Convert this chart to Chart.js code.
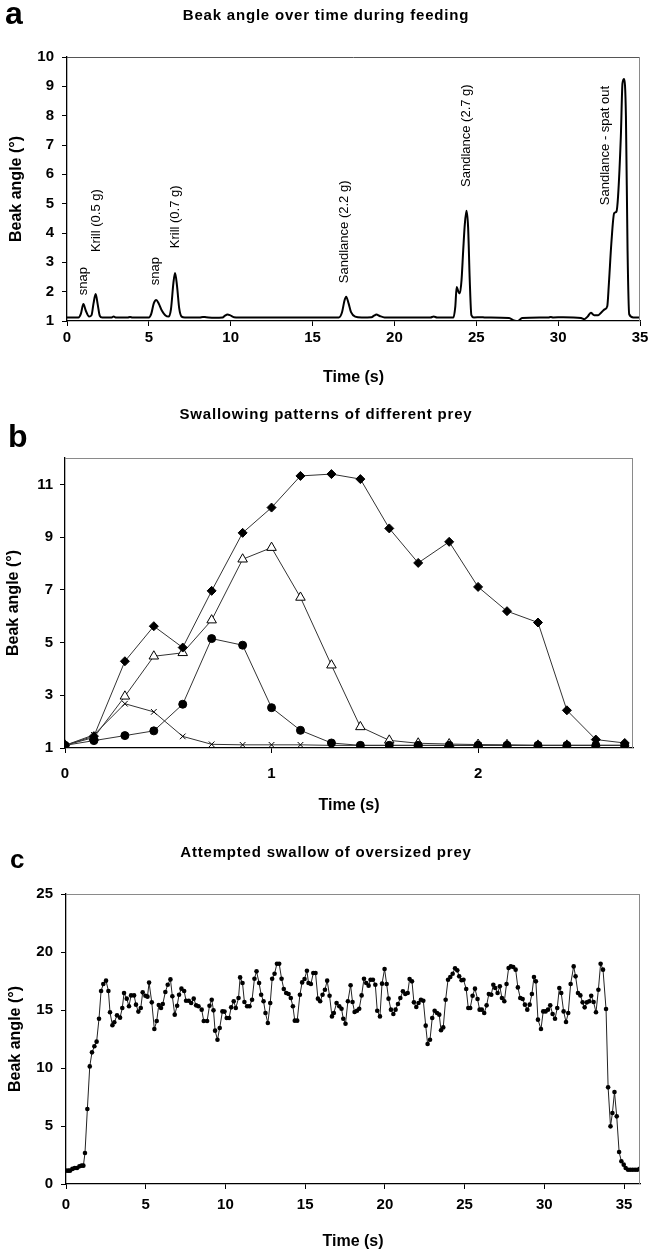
<!DOCTYPE html>
<html>
<head>
<meta charset="utf-8">
<script src="https://cdn.jsdelivr.net/npm/chart.js@4.4.1/dist/chart.umd.min.js"></script>
<style>
  body { margin: 0; background: #fff; }
  #page { position: relative; width: 648px; height: 1252px; overflow: hidden; font-family: "Liberation Sans", Arial, sans-serif; }
  canvas { position: absolute; left: 0; }
  .title { position: absolute; left: 2px; width: 648px; text-align: center; font-weight: bold; font-size: 15px; letter-spacing: 0.8px; line-height: 1; }
  .letter { position: absolute; font-weight: bold; line-height: 1; }
</style>
</head>
<body>
<div id="page">
  <canvas id="chartA" width="648" height="392" style="top:0px"></canvas>
  <canvas id="chartB" width="648" height="428" style="top:392px"></canvas>
  <canvas id="chartC" width="648" height="432" style="top:820px"></canvas>
  <div class="letter" style="left:5px; top:-3px; font-size:32px">a</div>
  <div class="title" style="top:7px">Beak angle over time during feeding</div>
  <div class="letter" style="left:8px; top:420px; font-size:32px">b</div>
  <div class="title" style="top:406px">Swallowing patterns of different prey</div>
  <div class="letter" style="left:10px; top:846px; font-size:26px">c</div>
  <div class="title" style="top:844px">Attempted swallow of oversized prey</div>
</div>
<script>
// panel a - beak angle during feeding
const timeA = [0, 0.7, 0.85, 1.0, 1.15, 1.35, 1.5, 1.62, 1.75, 1.88, 2.0, 2.15, 2.7, 2.85, 3.0, 3.7, 3.85, 4.0,
  5.0, 5.15, 5.3, 5.45, 5.6, 5.8, 6.0, 6.2, 6.35, 6.5, 6.6, 6.72, 6.85, 7.0, 7.2, 8.1, 8.3, 8.5, 9.0, 9.5,
  9.65, 9.8, 9.95, 10.2, 10.5, 16.6, 16.8, 16.95, 17.05, 17.2, 17.35, 17.6, 18.0, 18.6, 18.75, 18.9, 19.1,
  19.4, 22.2, 22.4, 22.6, 23.6, 23.72, 23.8, 23.95, 24.0, 24.1, 24.2, 24.3, 24.4, 24.5, 24.6, 24.7, 24.85,
  25.3, 25.5, 27.0, 27.3, 27.55, 27.8, 29.4, 29.55, 29.7, 30.3, 31.4, 31.6, 31.8, 32.0, 32.2, 32.45, 32.65,
  32.85, 33.0, 33.1, 33.25, 33.42, 33.56, 33.66, 33.83, 33.93, 34.03, 34.14, 34.24, 34.34, 34.6, 35];
const angleA = [1.12, 1.12, 1.25, 1.58, 1.35, 1.15, 1.2, 1.6, 1.92, 1.55, 1.18, 1.12, 1.12, 1.15, 1.12, 1.12, 1.14, 1.12,
  1.12, 1.25, 1.6, 1.72, 1.6, 1.35, 1.2, 1.15, 1.4, 2.3, 2.64, 2.2, 1.45, 1.15, 1.12, 1.12, 1.14, 1.13, 1.11, 1.12,
  1.18, 1.22, 1.2, 1.13, 1.12, 1.12, 1.3, 1.7, 1.83, 1.6, 1.3, 1.15, 1.12, 1.13, 1.18, 1.22, 1.17,
  1.12, 1.12, 1.15, 1.12, 1.12, 1.5, 2.16, 1.95, 1.95, 2.4, 3.4, 4.3, 4.76, 4.2, 2.4, 1.2, 1.12,
  1.13, 1.12, 1.1, 1.02, 1.0, 1.1, 1.12, 1.14, 1.12, 1.13, 1.1, 1.06, 1.15, 1.28, 1.2, 1.2, 1.3,
  1.4, 1.5, 2.28, 3.65, 4.67, 4.73, 5.25, 7.29, 9.1, 9.25, 8.0, 3.4, 1.23, 1.12, 1.12];
const labelTextA = ['snap', 'Krill (0.5 g)', 'snap', 'Krill (0.7 g)', 'Sandlance (2.2 g)', 'Sandlance (2.7 g)', 'Sandlance - spat out'];
const labelTimeA = [0.99, 1.79, 5.41, 6.6, 16.97, 24.38, 32.87];
const labelAngleA = [1.88, 3.35, 2.22, 3.48, 2.29, 5.57, 4.95];
const xTicksA = [0, 5, 10, 15, 20, 25, 30, 35];
const yTicksA = [1, 2, 3, 4, 5, 6, 7, 8, 9, 10];

// panel b - swallowing patterns
const timeB = [0, 0.14, 0.29, 0.43, 0.57, 0.71, 0.86, 1.0, 1.14, 1.29, 1.43, 1.57, 1.71, 1.86, 2.0, 2.14, 2.29, 2.43, 2.57, 2.71];
const diamondB = [1.1, 1.45, 4.29, 5.62, 4.81, 6.96, 9.16, 10.12, 11.32, 11.39, 11.2, 9.33, 8.02, 8.82, 7.11, 6.19, 5.76, 2.43, 1.32, 1.19];
const triangleB = [1.1, 1.4, 2.96, 4.48, 4.61, 5.85, 8.16, 8.6, 6.71, 4.14, 1.8, 1.29, 1.18, 1.15, 1.13, 1.12, 1.1, 1.1, 1.1, 1.1];
const circleB = [1.1, 1.28, 1.47, 1.65, 2.66, 5.15, 4.9, 2.53, 1.67, 1.19, 1.1, 1.1, 1.1, 1.1, 1.1, 1.1, 1.1, 1.1, 1.1, 1.1];
const crossB = [1.1, 1.5, 2.68, 2.37, 1.44, 1.14, 1.12, 1.12, 1.12, 1.1, 1.1, 1.1, 1.1, 1.1, 1.1, 1.1, 1.1, 1.1, 1.1, 1.1];
const xTicksB = [0, 1, 2];
const yTicksB = [1, 3, 5, 7, 9, 11];

// panel c - oversized prey
const timeC = [0, 0.14, 0.25, 0.4, 0.55, 0.69, 0.84, 0.98, 1.09, 1.19, 1.34, 1.49, 1.63, 1.78, 1.92,
  2.07, 2.2, 2.34, 2.51, 2.66, 2.76, 2.91, 3.03, 3.2, 3.39, 3.53, 3.64, 3.81, 3.95, 4.08, 4.27, 4.39, 4.54,
  4.69, 4.81, 4.98, 5.11, 5.21, 5.38, 5.54, 5.69, 5.82, 5.96, 6.07, 6.23, 6.38, 6.55, 6.67, 6.82, 6.97, 7.09,
  7.24, 7.41, 7.53, 7.7, 7.85, 8.01, 8.16, 8.31, 8.51, 8.64, 8.85, 9.0, 9.14, 9.25, 9.35, 9.5, 9.64, 9.81,
  9.94, 10.08, 10.23, 10.36, 10.52, 10.65, 10.82, 10.92, 11.07, 11.19, 11.36, 11.51, 11.67, 11.82, 11.95,
  12.11, 12.24, 12.39, 12.51, 12.66, 12.81, 12.93, 13.08, 13.23, 13.37, 13.52, 13.66, 13.81, 13.96, 14.1,
  14.23, 14.35, 14.5, 14.67, 14.81, 14.96, 15.11, 15.21, 15.36, 15.51, 15.65, 15.8, 15.94, 16.09, 16.24,
  16.38, 16.53, 16.68, 16.8, 16.97, 17.14, 17.28, 17.39, 17.53, 17.68, 17.85, 17.97, 18.1, 18.25, 18.39,
  18.54, 18.69, 18.83, 18.98, 19.1, 19.25, 19.4, 19.52, 19.69, 19.82, 19.98, 20.11, 20.23, 20.38, 20.53,
  20.67, 20.82, 20.97, 21.13, 21.28, 21.43, 21.55, 21.7, 21.82, 21.97, 22.11, 22.26, 22.41, 22.56, 22.68,
  22.83, 22.97, 23.12, 23.27, 23.41, 23.52, 23.66, 23.81, 23.96, 24.1, 24.25, 24.4, 24.54, 24.66, 24.81,
  24.93, 25.1, 25.23, 25.35, 25.5, 25.65, 25.81, 25.94, 26.08, 26.23, 26.38, 26.52, 26.67, 26.8, 26.92,
  27.07, 27.21, 27.34, 27.49, 27.63, 27.76, 27.9, 28.05, 28.2, 28.34, 28.49, 28.64, 28.78, 28.93, 29.08,
  29.22, 29.35, 29.47, 29.6, 29.79, 29.93, 30.08, 30.23, 30.37, 30.52, 30.67, 30.81, 30.94, 31.06, 31.21,
  31.36, 31.5, 31.65, 31.84, 31.96, 32.11, 32.26, 32.4, 32.53, 32.67, 32.82, 32.94, 33.09, 33.24, 33.39,
  33.53, 33.68, 33.87, 34.0, 34.15, 34.27, 34.4, 34.54, 34.69, 34.83, 34.98, 35.1, 35.25, 35.39, 35.54,
  35.69, 35.83, 35.98];
const angleC = [1.15, 1.15, 1.15, 1.3, 1.38, 1.38, 1.52, 1.58, 1.58, 2.67, 6.46, 10.14, 11.35, 11.87, 12.27,
  14.25, 16.64, 17.24, 17.53, 16.64, 14.8, 13.68, 13.94, 14.54, 14.34, 15.17, 16.46, 15.98, 15.32, 16.26, 16.26, 15.46, 14.86,
  15.17, 16.52, 16.23, 16.15, 17.36, 15.66, 13.36, 14.05, 15.43, 15.17, 15.52, 16.55, 17.18, 17.64, 16.18, 14.6, 15.37, 16.32,
  16.84, 16.64, 15.8, 15.8, 15.6, 15.98, 15.4, 15.32, 15.03, 14.05, 14.05, 15.37, 15.89, 14.97, 13.22, 12.44, 13.45, 14.88,
  14.86, 14.31, 14.31, 15.23, 15.75, 15.17, 16.03, 17.81, 17.33, 15.69, 15.32, 15.32, 15.89, 17.7, 18.33,
  17.33, 16.32, 15.75, 14.74, 13.88, 15.6, 17.7, 18.13, 18.99, 18.99, 17.7, 16.81, 16.46, 16.38, 16.03,
  15.32, 14.08, 14.08, 16.32, 17.38, 17.67, 18.39, 17.33, 17.24, 18.19, 18.19, 15.98, 15.75, 16.32, 16.75,
  17.53, 16.23, 14.45, 14.74, 15.6, 15.32, 15.11, 14.25, 13.82, 15.75, 17.13, 15.69, 14.83, 14.94, 15.11,
  16.26, 17.7, 17.33, 17.1, 17.61, 17.61, 17.18, 14.94, 14.45, 17.27, 18.53, 17.24, 15.98, 15.03, 14.65,
  15.03, 15.52, 16.03, 16.61, 16.38, 16.46, 17.67, 17.47, 15.66, 15.26, 15.6, 15.89, 15.8, 13.65, 12.07,
  12.44, 14.31, 14.94, 14.74, 14.6, 13.25, 13.5, 15.89, 17.61, 17.84, 18.13, 18.6, 18.42, 17.9, 17.56,
  17.61, 16.81, 15.17, 15.17, 16.23, 16.84, 15.95, 15.03, 15.03, 14.74, 15.4, 16.38, 16.32, 17.18, 16.9,
  16.46, 17.04, 16.03, 15.75, 17.24, 18.62, 18.76, 18.71, 18.48, 16.95, 16.03, 15.95, 15.46, 15.03, 15.46,
  16.38, 17.84, 17.47, 14.17, 13.36, 14.88, 14.88, 15.03, 15.4, 14.65, 14.25, 15.17, 16.9, 16.46, 14.88,
  13.96, 14.74, 17.24, 18.76, 17.9, 16.46, 16.26, 15.66, 15.23, 15.66, 15.75, 16.23, 15.69, 14.8, 16.75,
  18.99, 18.48, 15.08, 8.33, 4.97, 6.12, 7.93, 5.83, 2.76, 1.96, 1.67, 1.38, 1.23, 1.23, 1.23,
  1.23, 1.23, 1.3];
const xTicksC = [0, 5, 10, 15, 20, 25, 30, 35];
const yTicksC = [0, 5, 10, 15, 20, 25];

const FONT = '"Liberation Sans", Arial, sans-serif';

function toPoints(xs, ys) {
  return xs.map((x, i) => ({ x: x, y: ys[i] }));
}

// top and right frame lines
const framePlugin = {
  id: 'frame',
  afterDraw(chart) {
    const a = chart.chartArea;
    const ctx = chart.ctx;
    ctx.save();
    ctx.lineWidth = 1;
    ctx.strokeStyle = chart.options.plugins.frame.topColor;
    ctx.beginPath();
    ctx.moveTo(a.left, a.top + 0.5);
    ctx.lineTo(a.right, a.top + 0.5);
    ctx.stroke();
    ctx.strokeStyle = chart.options.plugins.frame.rightColor;
    ctx.beginPath();
    ctx.moveTo(a.right - 0.5, a.top);
    ctx.lineTo(a.right - 0.5, a.bottom);
    ctx.stroke();
    ctx.restore();
  }
};

// rotated event labels of panel a
const labelPlugin = {
  id: 'eventLabels',
  afterDatasetsDraw(chart) {
    const opts = chart.options.plugins.eventLabels;
    if (!opts || !opts.texts) return;
    const ctx = chart.ctx;
    ctx.save();
    ctx.fillStyle = '#000';
    ctx.font = '13px ' + FONT;
    ctx.textAlign = 'left';
    ctx.textBaseline = 'middle';
    opts.texts.forEach((txt, i) => {
      const x = chart.scales.x.getPixelForValue(opts.times[i]);
      const y = chart.scales.y.getPixelForValue(opts.angles[i]);
      ctx.save();
      ctx.translate(x, y);
      ctx.rotate(-Math.PI / 2);
      ctx.fillText(txt, 0, 0);
      ctx.restore();
    });
    ctx.restore();
  }
};

function makeScales(cfg) {
  const tickFont = { family: FONT, size: 15, weight: 'bold' };
  const titleFont = { family: FONT, size: 16, weight: 'bold' };
  return {
    x: {
      type: 'linear',
      min: cfg.xMin, max: cfg.xMax,
      afterBuildTicks: s => { s.ticks = cfg.xTicks.map(v => ({ value: v })); },
      afterFit: s => { s.height = cfg.xHeight; s.paddingLeft = 0; s.paddingRight = 0; },
      grid: { display: true, drawOnChartArea: false, drawTicks: true, tickLength: 5, color: '#000', lineWidth: 1 },
      border: { display: true, color: '#000', width: 1.3 },
      ticks: { color: '#000', font: tickFont, padding: cfg.xTickPad, maxRotation: 0, autoSkip: false },
      title: { display: true, text: 'Time (s)', color: '#000', font: titleFont, padding: { top: 0, bottom: cfg.xTitlePad } }
    },
    y: {
      type: 'linear',
      min: cfg.yMin, max: cfg.yMax,
      afterBuildTicks: s => { s.ticks = cfg.yTicks.map(v => ({ value: v })); },
      afterFit: s => { s.width = cfg.yWidth; s.paddingTop = 0; s.paddingBottom = 0; },
      grid: { display: true, drawOnChartArea: false, drawTicks: true, tickLength: 5, color: '#000', lineWidth: 1 },
      border: { display: true, color: '#000', width: 1.3 },
      ticks: { color: '#000', font: tickFont, padding: cfg.yTickPad, autoSkip: false },
      title: { display: true, text: 'Beak angle (°)', color: '#000', font: titleFont, padding: { top: cfg.yTitlePad, bottom: 0 } }
    }
  };
}

function baseOptions(cfg, extraPlugins) {
  return {
    responsive: false,
    animation: false,
    devicePixelRatio: 1,
    layout: { padding: { top: cfg.padTop, right: cfg.padRight, bottom: 0, left: 0 } },
    plugins: Object.assign({
      legend: { display: false },
      tooltip: { enabled: false },
      frame: { topColor: cfg.topColor, rightColor: '#8a8a8a' }
    }, extraPlugins || {}),
    scales: makeScales(cfg)
  };
}

new Chart(document.getElementById('chartA'), {
  type: 'scatter',
  data: {
    datasets: [{
      data: toPoints(timeA, angleA),
      showLine: true,
      borderColor: '#000',
      borderWidth: 2,
      pointRadius: 0,
      cubicInterpolationMode: 'monotone'
    }]
  },
  options: baseOptions({
    xMin: 0, xMax: 35, yMin: 1, yMax: 10, xTicks: xTicksA, yTicks: yTicksA,
    padTop: 57, padRight: 8, xHeight: 71, yWidth: 67,
    xTickPad: 3, yTickPad: 8, xTitlePad: 5, yTitlePad: 7, topColor: '#555'
  }, { eventLabels: { texts: labelTextA, times: labelTimeA, angles: labelAngleA } }),
  plugins: [framePlugin, labelPlugin]
});

const lineB = { showLine: true, borderColor: '#333', borderWidth: 1, tension: 0 };
new Chart(document.getElementById('chartB'), {
  type: 'scatter',
  data: {
    datasets: [
      Object.assign({ data: toPoints(timeB, circleB), pointStyle: 'circle', pointRadius: 4, pointBackgroundColor: '#000', pointBorderColor: '#000', order: 0 }, lineB),
      Object.assign({ data: toPoints(timeB, diamondB), pointStyle: 'rectRot', pointRadius: 4.5, pointBackgroundColor: '#000', pointBorderColor: '#000', order: 1 }, lineB),
      Object.assign({ data: toPoints(timeB, triangleB), pointStyle: 'triangle', pointRadius: 5.5, pointBackgroundColor: '#fff', pointBorderColor: '#000', pointBorderWidth: 1, order: 2 }, lineB),
      Object.assign({ data: toPoints(timeB, crossB), pointStyle: 'crossRot', pointRadius: 4, pointBackgroundColor: '#000', pointBorderColor: '#000', pointBorderWidth: 1, order: 3 }, lineB)
    ]
  },
  options: baseOptions({
    xMin: 0, xMax: 2.75, yMin: 1, yMax: 12, xTicks: xTicksB, yTicks: yTicksB,
    padTop: 66, padRight: 15, xHeight: 72, yWidth: 65,
    xTickPad: 12, yTickPad: 7, xTitlePad: 5, yTitlePad: 4, topColor: '#8a8a8a'
  }),
  plugins: [framePlugin]
});

new Chart(document.getElementById('chartC'), {
  type: 'scatter',
  data: {
    datasets: [{
      data: toPoints(timeC, angleC),
      showLine: true,
      borderColor: '#222',
      borderWidth: 1,
      tension: 0,
      pointRadius: 2.3,
      pointBackgroundColor: '#000',
      pointBorderColor: '#000',
      pointBorderWidth: 0
    }]
  },
  options: baseOptions({
    xMin: 0, xMax: 36, yMin: 0, yMax: 25, xTicks: xTicksC, yTicks: yTicksC,
    padTop: 74, padRight: 8, xHeight: 68, yWidth: 66,
    xTickPad: 7, yTickPad: 8, xTitlePad: 1, yTitlePad: 6, topColor: '#8a8a8a'
  }),
  plugins: [framePlugin]
});
</script>
</body>
</html>
